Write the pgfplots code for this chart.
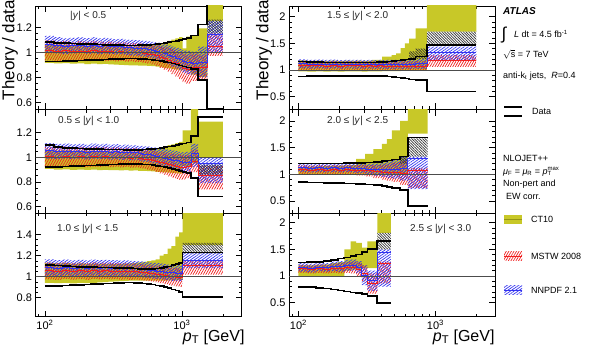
\documentclass[border=0pt]{standalone}
\usepackage{fontspec}
\setmainfont{Liberation Sans}
\usepackage{pgfplots}
\usepackage{pgfplotstable}
\pgfplotsset{compat=1.18}
\usepgfplotslibrary{fillbetween}
\usetikzlibrary{patterns.meta}

\definecolor{ctten}{RGB}{200,200,40}
\definecolor{ctline}{RGB}{150,150,20}
\definecolor{mstw}{RGB}{240,30,30}
\definecolor{nnpdf}{RGB}{50,50,240}

\tikzset{
  mstwhatch/.style={pattern={Lines[angle=60,distance=2.2pt,line width=0.7pt]}, pattern color=mstw},
  nnpdfhatch/.style={pattern={Lines[angle=35,distance=2.2pt,line width=0.7pt]}, pattern color=nnpdf},
  darkhatch/.style={pattern={Lines[angle=-45,distance=1.9pt,line width=0.7pt]}, pattern color=black!80},
}

% columns: lower bin edge, data band (lo/hi), CT10, MSTW 2008, NNPDF 2.1, extra band, central lines
\pgfplotstableread{
x dlo dhi clo chi mlo mhi nlo nhi klo khi mc nc
100 .925 1.080 .915 1.065 .935 1.095 .995 1.130 1 1 1.015 1.065
116 .927 1.076 .910 1.060 .930 1.085 .990 1.120 1 1 1.010 1.055
134 .930 1.072 .912 1.058 .935 1.090 .985 1.110 1 1 1.012 1.050
152 .932 1.070 .908 1.055 .925 1.080 .990 1.115 1 1 1.005 1.052
172 .934 1.068 .910 1.056 .932 1.088 .995 1.118 1 1 1.010 1.056
194 .936 1.066 .905 1.052 .928 1.082 .988 1.112 1 1 1.004 1.050
216 .938 1.064 .908 1.054 .935 1.090 .992 1.120 1 1 1.012 1.056
240 .940 1.062 .904 1.050 .930 1.084 .985 1.110 1 1 1.006 1.048
264 .942 1.060 .906 1.052 .928 1.080 .990 1.115 1 1 1.004 1.052
290 .944 1.058 .902 1.048 .932 1.086 .986 1.108 1 1 1.008 1.047
318 .946 1.057 .900 1.046 .926 1.078 .982 1.104 1 1 1.002 1.043
346 .948 1.056 .898 1.045 .930 1.082 .984 1.106 1 1 1.005 1.045
376 .950 1.055 .896 1.044 .924 1.076 .978 1.100 1 1 1.000 1.039
408 .950 1.055 .895 1.044 .928 1.074 .975 1.098 1 1 1.000 1.037
442 .950 1.055 .895 1.045 .920 1.072 .972 1.096 1 1 .996 1.034
478 .948 1.056 .893 1.046 .922 1.070 .968 1.094 1 1 .996 1.031
516 .946 1.058 .892 1.050 .915 1.066 .965 1.090 1 1 .990 1.027
556 .943 1.060 .890 1.055 .910 1.062 .958 1.086 1 1 .986 1.022
598 .940 1.063 .888 1.060 .900 1.058 .950 1.082 1 1 .979 1.016
642 .935 1.067 .884 1.065 .890 1.052 .940 1.076 1 1 .971 1.008
688 .930 1.071 .880 1.072 .875 1.045 .930 1.070 1 1 .960 1.000
736 .924 1.075 .875 1.080 .860 1.038 .915 1.062 1 1 .949 .988
786 .918 1.080 .870 1.090 .845 1.030 .900 1.055 1 1 .937 .977
838 .910 1.085 .865 1.100 .825 1.020 .885 1.045 1 1 .922 .965
894 .902 1.091 .860 1.110 .805 1.010 .870 1.035 1 1 .907 .952
952 .894 1.097 .855 1.120 .785 1.000 .855 1.025 1 1 .892 .940
1012 .886 1.104 .860 1.030 .760 .985 .835 1.015 1 1 .872 .925
1076 .878 1.112 .850 1.125 .750 .980 .825 1.010 1 1 .865 .917
1162 .868 1.135 .820 1.130 .770 .990 .820 1.005 1 1 .880 .912
1310 .776 1.222 .800 1.190 .770 .980 .800 1.045 1 1 .875 .922
1530 .551 1.600 1.250 1.600 .970 1.150 1.000 1.250 1.150 1.260 1.050 1.140
1992 .551 1.600 1.250 1.600 .970 1.150 1.000 1.250 1.150 1.260 1.050 1.140
}\tabA

\pgfplotstableread{
x dlo dhi clo chi mlo mhi nlo nhi klo khi mc nc
100 .920 1.100 .905 1.060 .925 1.085 .990 1.115 1 1 1.005 1.055
116 .923 1.085 .900 1.055 .920 1.080 .985 1.110 1 1 1.000 1.048
134 .926 1.078 .902 1.056 .928 1.088 .992 1.112 1 1 1.008 1.052
152 .928 1.074 .898 1.052 .922 1.080 .985 1.105 1 1 1.001 1.045
172 .930 1.071 .900 1.054 .926 1.084 .990 1.110 1 1 1.005 1.050
194 .932 1.069 .897 1.050 .920 1.078 .984 1.104 1 1 .999 1.044
216 .934 1.067 .900 1.052 .925 1.086 .990 1.112 1 1 1.005 1.051
240 .936 1.066 .896 1.049 .922 1.080 .985 1.106 1 1 1.001 1.046
264 .938 1.065 .898 1.050 .926 1.084 .988 1.110 1 1 1.005 1.049
290 .940 1.064 .895 1.048 .920 1.078 .982 1.104 1 1 .999 1.043
318 .942 1.063 .896 1.047 .924 1.082 .986 1.108 1 1 1.003 1.047
346 .944 1.062 .893 1.046 .918 1.075 .980 1.100 1 1 .997 1.040
376 .946 1.061 .895 1.046 .922 1.078 .983 1.104 1 1 1.000 1.043
408 .948 1.060 .892 1.045 .916 1.072 .976 1.098 1 1 .994 1.037
442 .948 1.060 .893 1.046 .918 1.074 .978 1.098 1 1 .996 1.038
478 .946 1.061 .890 1.048 .912 1.068 .970 1.094 1 1 .990 1.032
516 .943 1.063 .889 1.052 .908 1.064 .965 1.090 1 1 .986 1.027
556 .940 1.066 .887 1.058 .900 1.060 .958 1.086 1 1 .980 1.022
598 .936 1.069 .885 1.063 .892 1.055 .950 1.080 1 1 .973 1.015
642 .931 1.073 .882 1.070 .882 1.050 .942 1.076 1 1 .966 1.009
688 .926 1.077 .880 1.078 .870 1.045 .930 1.070 1 1 .957 1.000
736 .920 1.082 .878 1.085 .858 1.040 .920 1.066 1 1 .949 .993
786 .913 1.087 .875 1.100 .845 1.034 .910 1.060 1 1 .940 .985
838 .905 1.093 .872 1.105 .835 1.030 .900 1.055 1 1 .932 .978
894 .897 1.099 .870 1.115 .825 1.025 .892 1.050 1 1 .925 .971
952 .889 1.106 .868 1.125 .818 1.020 .885 1.045 1 1 .919 .965
1012 .881 1.113 .930 1.220 .820 1.018 .870 1.040 1 1 .919 .955
1076 .872 1.120 .930 1.220 .830 1.020 .875 1.045 1 1 .925 .960
1162 .830 1.172 .950 1.450 .880 1.060 .920 1.110 1 1 .970 1.030
1310 .680 1.330 1.000 1.290 .740 .930 .790 1.000 .860 .940 .850 .950
1992 .680 1.330 1.000 1.290 .740 .930 .790 1.000 .860 .940 .850 .950
}\tabB

\pgfplotstableread{
x dlo dhi clo chi mlo mhi nlo nhi klo khi mc nc
100 .910 1.110 .940 1.130 .975 1.135 1.010 1.165 1 1 1.055 1.090
116 .913 1.105 .938 1.125 .970 1.128 1.005 1.158 1 1 1.049 1.082
134 .916 1.100 .940 1.128 .978 1.136 1.012 1.162 1 1 1.057 1.087
152 .919 1.097 .936 1.122 .972 1.130 1.005 1.155 1 1 1.051 1.080
172 .922 1.094 .940 1.125 .976 1.134 1.010 1.160 1 1 1.055 1.085
194 .925 1.092 .938 1.122 .970 1.128 1.004 1.154 1 1 1.049 1.079
216 .928 1.090 .942 1.124 .978 1.136 1.012 1.162 1 1 1.057 1.087
240 .931 1.088 .945 1.122 .974 1.132 1.008 1.158 1 1 1.053 1.083
264 .934 1.087 .948 1.122 .978 1.134 1.012 1.160 1 1 1.056 1.086
290 .937 1.086 .952 1.120 .974 1.130 1.006 1.156 1 1 1.052 1.081
318 .940 1.085 .955 1.120 .976 1.132 1.010 1.158 1 1 1.054 1.084
346 .942 1.084 .958 1.122 .972 1.128 1.004 1.152 1 1 1.050 1.078
376 .943 1.082 .960 1.124 .975 1.130 1.008 1.155 1 1 1.052 1.081
408 .943 1.080 .962 1.126 .970 1.126 1.002 1.150 1 1 1.048 1.076
442 .942 1.077 .962 1.130 .972 1.124 1.000 1.148 1 1 1.048 1.074
478 .940 1.074 .962 1.135 .966 1.120 .996 1.145 1 1 1.043 1.070
516 .936 1.072 .962 1.140 .962 1.116 .992 1.140 1 1 1.039 1.066
556 .931 1.072 .962 1.148 .958 1.112 .988 1.136 1 1 1.035 1.062
598 .925 1.074 .962 1.155 .952 1.108 .984 1.132 1 1 1.030 1.058
642 .918 1.078 .962 1.165 .946 1.102 .980 1.128 1 1 1.024 1.054
688 .910 1.083 .962 1.200 .938 1.098 .975 1.124 1 1 1.018 1.050
736 .900 1.090 .962 1.215 .930 1.092 .970 1.120 1 1 1.011 1.045
786 .890 1.098 .965 1.265 .922 1.088 .965 1.115 1 1 1.005 1.040
838 .880 1.108 .965 1.290 .915 1.084 .960 1.112 1 1 1.000 1.036
894 .868 1.118 .968 1.380 .908 1.080 .958 1.110 1 1 .994 1.034
952 .855 1.130 .970 1.420 .902 1.078 .955 1.108 1 1 .990 1.032
1012 .805 1.228 1.300 1.700 1.020 1.150 1.080 1.230 1.220 1.320 1.110 1.150
1992 .805 1.228 1.300 1.700 1.020 1.150 1.080 1.230 1.220 1.320 1.110 1.150
}\tabC

\pgfplotstableread{
x dlo dhi clo chi mlo mhi nlo nhi klo khi mc nc
100 .880 1.160 .975 1.180 1.000 1.170 1.030 1.200 1 1 1.085 1.115
116 .885 1.150 .972 1.172 .995 1.160 1.025 1.190 1 1 1.078 1.108
134 .888 1.145 .976 1.176 1.002 1.166 1.032 1.196 1 1 1.084 1.114
152 .890 1.142 .972 1.170 .994 1.158 1.026 1.188 1 1 1.076 1.107
172 .891 1.140 .975 1.174 1.000 1.165 1.030 1.194 1 1 1.082 1.112
194 .892 1.139 .972 1.170 .994 1.158 1.024 1.186 1 1 1.076 1.105
216 .893 1.138 .976 1.175 1.000 1.164 1.030 1.192 1 1 1.082 1.111
240 .893 1.138 .973 1.172 .995 1.160 1.026 1.188 1 1 1.078 1.107
264 .893 1.138 .975 1.174 .998 1.162 1.028 1.190 1 1 1.080 1.109
290 .893 1.139 .972 1.172 .993 1.158 1.024 1.186 1 1 1.076 1.105
318 .892 1.140 .974 1.176 .996 1.160 1.026 1.188 1 1 1.078 1.107
346 .890 1.142 .975 1.190 .992 1.158 1.022 1.186 1 1 1.075 1.104
376 .887 1.146 .975 1.190 .995 1.160 1.025 1.188 1 1 1.078 1.106
408 .883 1.151 .978 1.250 .990 1.158 1.020 1.186 1 1 1.074 1.103
442 .877 1.158 .978 1.250 .992 1.160 1.022 1.188 1 1 1.076 1.105
478 .870 1.166 .980 1.280 .988 1.160 1.018 1.188 1 1 1.074 1.103
516 .861 1.175 .980 1.310 .990 1.162 1.020 1.190 1 1 1.076 1.105
556 .850 1.186 .985 1.410 .986 1.162 1.018 1.192 1 1 1.074 1.105
598 .838 1.198 .990 1.500 .988 1.165 1.020 1.195 1 1 1.076 1.107
642 .824 1.212 1.000 1.590 .985 1.168 1.020 1.200 1.200 1.350 1.076 1.110
716 .808 1.250 1.000 1.780 .985 1.170 1.020 1.210 1.210 1.400 1.077 1.115
866 .595 1.470 1.720 2.400 1.060 1.280 1.190 1.440 1.470 1.720 1.180 1.330
1992 .595 1.470 1.720 2.400 1.060 1.280 1.190 1.440 1.470 1.720 1.180 1.330
}\tabD

\pgfplotstableread{
x dlo dhi clo chi mlo mhi nlo nhi klo khi mc nc
100 .850 1.200 .990 1.140 1.000 1.170 1.040 1.200 1 1 1.085 1.120
116 .848 1.200 .988 1.145 .995 1.165 1.035 1.195 1 1 1.080 1.115
134 .845 1.201 .992 1.150 1.002 1.172 1.042 1.202 1 1 1.087 1.122
152 .842 1.202 .988 1.152 .996 1.166 1.036 1.196 1 1 1.081 1.116
172 .838 1.203 .992 1.158 1.002 1.172 1.042 1.204 1 1 1.087 1.123
194 .834 1.205 .988 1.160 .994 1.166 1.034 1.198 1 1 1.080 1.116
216 .830 1.207 .992 1.165 1.000 1.172 1.040 1.204 1 1 1.086 1.122
240 .825 1.210 .990 1.170 .990 1.168 1.030 1.200 1 1 1.079 1.115
264 .818 1.215 .990 1.290 .980 1.170 1.020 1.200 1 1 1.075 1.110
307 .808 1.222 .990 1.380 .960 1.170 1.000 1.200 1 1 1.065 1.100
352 .795 1.232 .990 1.470 .930 1.170 .970 1.200 1 1 1.050 1.085
406 .780 1.245 .995 1.570 .900 1.180 .950 1.220 1 1 1.040 1.085
442 .762 1.260 1.000 1.660 .880 1.200 .930 1.240 1 1 1.040 1.085
480 .740 1.280 1.000 1.820 .860 1.220 .920 1.270 1 1 1.040 1.095
552 .705 1.330 1.000 2.000 .800 1.250 .880 1.330 1.200 1.330 1.025 1.105
628 .410 1.685 1.760 2.400 .740 1.120 .720 1.330 1.330 1.670 1.070 1.300
875 .410 1.685 1.760 2.400 .740 1.120 .720 1.330 1.330 1.670 1.070 1.300
}\tabE

\pgfplotstableread{
x dlo dhi clo chi mlo mhi nlo nhi klo khi mc nc
100 .800 1.250 1.000 1.200 1.060 1.210 1.080 1.240 1 1 1.135 1.160
116 .790 1.258 1.000 1.200 1.050 1.200 1.070 1.230 1 1 1.125 1.150
134 .780 1.266 1.000 1.210 1.060 1.220 1.090 1.250 1 1 1.140 1.170
152 .765 1.280 1.000 1.220 1.050 1.210 1.080 1.240 1 1 1.130 1.160
172 .748 1.300 1.000 1.240 1.060 1.230 1.090 1.270 1 1 1.145 1.180
194 .728 1.325 1.000 1.260 1.050 1.240 1.080 1.280 1 1 1.145 1.180
216 .710 1.350 1.100 1.500 1.060 1.260 1.100 1.300 1 1 1.160 1.200
240 .695 1.375 1.120 1.650 1.050 1.270 1.100 1.310 1 1 1.160 1.205
264 .680 1.405 1.120 1.620 1.000 1.250 1.050 1.280 1 1 1.125 1.165
290 .660 1.445 1.150 1.530 .900 1.200 .830 1.200 1 1 1.050 1.015
318 .630 1.510 1.150 1.650 .670 1.050 .720 1.100 1 1 .860 .910
376 .490 1.660 1.810 2.400 .860 1.270 .800 1.500 1.500 1.810 1.240 1.450
472 .490 1.660 1.810 2.400 .860 1.270 .800 1.500 1.500 1.810 1.240 1.450
}\tabF

% one rapidity bin: CT10 band, MSTW and NNPDF hatches, central lines, data band
\newcommand\drawbin[1]{%
  \addplot[name path=cL, draw=none, const plot] table[x=x,y=clo]{#1};
  \addplot[name path=cH, draw=none, const plot] table[x=x,y=chi]{#1};
  \addplot[fill=ctten, draw=none] fill between[of=cL and cH];
  \addplot[name path=mL, draw=none, const plot] table[x=x,y=mlo]{#1};
  \addplot[name path=mH, draw=none, const plot] table[x=x,y=mhi]{#1};
  \addplot[mstwhatch, draw=none] fill between[of=mL and mH];
  \addplot[name path=nL, draw=none, const plot] table[x=x,y=nlo]{#1};
  \addplot[name path=nH, draw=none, const plot] table[x=x,y=nhi]{#1};
  \addplot[nnpdfhatch, draw=none] fill between[of=nL and nH];
  \addplot[name path=kL, draw=none, const plot] table[x=x,y=klo]{#1};
  \addplot[name path=kH, draw=none, const plot] table[x=x,y=khi]{#1};
  \addplot[darkhatch, draw=none] fill between[of=kL and kH];
  \addplot[mstw, line width=0.8pt, const plot] table[x=x,y=mc]{#1};
  \addplot[nnpdf, line width=0.8pt, const plot] table[x=x,y=nc]{#1};
  \addplot[black, line width=1.6pt, const plot] table[x=x,y=dlo]{#1};
  \addplot[black, line width=1.6pt, const plot] table[x=x,y=dhi]{#1};
  \addplot[black!70, line width=0.6pt] coordinates {(60,1) (4000,1)};
}

\pgfplotsset{
  every axis/.append style={
    scale only axis, width=206pt, height=103.5pt,
    xmin=85.3, xmax=2719,
    xtick={100,1000},
    minor xtick={90,200,300,400,500,600,700,800,900,2000},
    tick align=inside, xtick pos=both, ytick pos=both,
    major tick length=6pt, minor tick length=3pt,
    every tick/.append style={line width=0.6pt, black},
    axis line style={line width=0.9pt},
    tick label style={font=\fontsize{11}{12}\selectfont},
    anchor=north west,
  },
}

\begin{document}
\begin{tikzpicture}

\begin{axis}[xmode=log, at={(35.5pt,-6pt)}, xticklabels={},
  ymin=0.542, ymax=1.37, ytick={0.6,0.8,1,1.2}, yticklabels={0.6,0.8,1,1.2}, minor y tick num=3]
\drawbin{\tabA}
\end{axis}
\begin{axis}[xmode=log, at={(35.5pt,-109.5pt)}, xticklabels={},
  ymin=0.547, ymax=1.389, ytick={0.6,0.8,1,1.2}, yticklabels={0.6,0.8,1,1.2}, minor y tick num=3]
\drawbin{\tabB}
\end{axis}
\begin{axis}[xmode=log, at={(35.5pt,-213pt)}, xticklabels={10\textsuperscript{2},10\textsuperscript{3}},
  ymin=0.622, ymax=1.604, ytick={0.8,1,1.2,1.4}, yticklabels={0.8,1,1.2,1.4}, minor y tick num=3]
\drawbin{\tabC}
\end{axis}
\begin{axis}[xmode=log, at={(289pt,-6pt)}, xticklabels={},
  ymin=0.26, ymax=2.2, ytick={0.5,1,1.5,2}, yticklabels={0.5,1,1.5,2}, minor y tick num=4]
\drawbin{\tabD}
\end{axis}
\begin{axis}[xmode=log, at={(289pt,-109.5pt)}, xticklabels={},
  ymin=0.275, ymax=2.213, ytick={0.5,1,1.5,2}, yticklabels={0.5,1,1.5,2}, minor y tick num=4]
\drawbin{\tabE}
\end{axis}
\begin{axis}[xmode=log, at={(289pt,-213pt)}, xticklabels={10\textsuperscript{2},10\textsuperscript{3}},
  ymin=0.242, ymax=2.18, ytick={0.5,1,1.5,2}, yticklabels={0.5,1,1.5,2}, minor y tick num=4]
\drawbin{\tabF}
\end{axis}

% axis titles
\node[rotate=90, font=\fontsize{17}{18}\selectfont] at (10pt,-50pt) {Theory / data};
\node[rotate=90, font=\fontsize{17}{18}\selectfont] at (264pt,-50pt) {Theory / data};
\node[anchor=base east, font=\fontsize{16}{17}\selectfont] at (248pt,-341pt) {\textit{p}\textsubscript{T} [GeV]};
\node[anchor=base east, font=\fontsize{16}{17}\selectfont] at (498pt,-341pt) {\textit{p}\textsubscript{T} [GeV]};

% rapidity ranges
\begin{scope}[every node/.style={anchor=west, font=\fontsize{10}{12}\selectfont, text=black!85, inner sep=0pt}]
\node at (70pt,-16pt) {|\textit{y}| < 0.5};
\node at (58pt,-121pt) {0.5 ≤ |\textit{y}| < 1.0};
\node at (57pt,-229pt) {1.0 ≤ |\textit{y}| < 1.5};
\node at (327pt,-16pt) {1.5 ≤ |\textit{y}| < 2.0};
\node at (327pt,-121pt) {2.0 ≤ |\textit{y}| < 2.5};
\node at (410pt,-229pt) {2.5 ≤ |\textit{y}| < 3.0};
\end{scope}

% key
\begin{scope}[every node/.style={anchor=west, font=\fontsize{9}{11}\selectfont, inner sep=0pt}]
\node[font=\fontsize{10}{12}\selectfont\bfseries\itshape] at (503pt,-11pt) {ATLAS};
\node[font=\fontsize{17}{17}\selectfont] at (501.5pt,-35pt) {∫};
\node at (514pt,-34pt) {\textit{L} dt = 4.5 fb\textsuperscript{-1}};
\node at (503pt,-54pt) {$\sqrt{\mbox{s}}$ = 7 TeV};
\node at (503pt,-76pt) {anti-k\textsubscript{t} jets,\ \ \textit{R}=0.4};
\draw[line width=1.6pt] (504pt,-106.7pt) -- (522pt,-106.7pt);
\draw[line width=1.6pt] (504pt,-115.7pt) -- (522pt,-115.7pt);
\node at (532pt,-111pt) {Data};
\node at (503pt,-158pt) {NLOJET++};
\node at (503pt,-172pt) {\textit{μ}\textsubscript{F} = \textit{μ}\textsubscript{R} = \textit{p}\rlap{\textsubscript{T}}\textsuperscript{max}};
\node at (503pt,-184pt) {Non-pert and};
\node at (506pt,-196pt) {EW corr.};
\fill[ctten] (504pt,-214.5pt) rectangle (522pt,-223.5pt);
\draw[ctline, line width=0.8pt] (504pt,-219pt) -- (522pt,-219pt);
\node at (531pt,-219pt) {CT10};
\fill[mstwhatch] (504pt,-251.5pt) rectangle (522pt,-260.5pt);
\draw[mstw, line width=0.8pt] (504pt,-256pt) -- (522pt,-256pt);
\node at (531pt,-256pt) {MSTW 2008};
\fill[nnpdfhatch] (504pt,-285.5pt) rectangle (522pt,-294.5pt);
\draw[nnpdf, line width=0.8pt] (504pt,-290pt) -- (522pt,-290pt);
\node at (531pt,-290pt) {NNPDF 2.1};
\end{scope}

\pgfresetboundingbox
\useasboundingbox (0pt,0pt) rectangle (589pt,-345pt);
\end{tikzpicture}
\end{document}
